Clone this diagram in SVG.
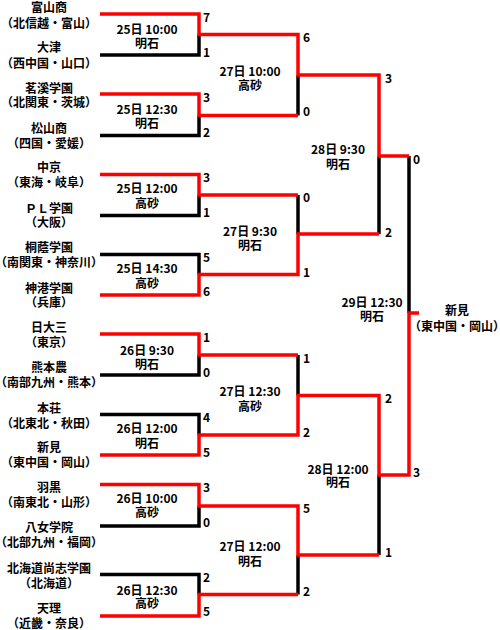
<svg xmlns="http://www.w3.org/2000/svg" width="500" height="630" viewBox="0 0 500 630">
<style>
text{font-family:"Noto Sans CJK JP","Noto Sans CJK SC",sans-serif;font-size:12px;font-weight:bold;fill:#000}
.t{text-anchor:middle}
.s{text-anchor:start}
.w{fill:none;stroke:#ff0000;stroke-width:3.5;stroke-linejoin:miter;stroke-linecap:butt}
.l{fill:none;stroke:#000;stroke-width:3.5;stroke-linejoin:miter;stroke-linecap:butt}
</style>
<rect width="500" height="630" fill="#fff"/>
<g id="connectors">
<path class="l" d="M100,55H199V34.5"/>
<path class="l" d="M100,135.5H199V115.5"/>
<path class="l" d="M298,115.5V75"/>
<path class="l" d="M100,215.5H199V195"/>
<path class="l" d="M100,254.5H199V274.5"/>
<path class="l" d="M298,195V234"/>
<path class="l" d="M379,234V156"/>
<path class="l" d="M409,156V313"/>
<path class="l" d="M100,375H199V355"/>
<path class="l" d="M100,414.5H199V435"/>
<path class="l" d="M298,355V395.5"/>
<path class="l" d="M100,526H199V506"/>
<path class="l" d="M100,574.5H199V594.5"/>
<path class="l" d="M298,594.5V555"/>
<path class="l" d="M379,555V475"/>
<path class="w" d="M100,14H199V34.5H298V75H379V156H409"/>
<path class="w" d="M100,94H199V115.5H298"/>
<path class="w" d="M100,174.5H199V195H298"/>
<path class="w" d="M100,295H199V274.5H298V234H379"/>
<path class="w" d="M100,334H199V355H298"/>
<path class="w" d="M100,455H199V435H298V395.5H379V475H409V313H419"/>
<path class="w" d="M100,484.5H199V506H298V555H379"/>
<path class="w" d="M100,616H199V594.5H298"/>
</g>
<g id="team1"><text class="t" x="49" y="11.5">富山商</text><text class="t" x="49" y="27.5">（北信越・富山）</text></g>
<g id="team2"><text class="t" x="49" y="52.2">大津</text><text class="t" x="49" y="67.5">（西中国・山口）</text></g>
<g id="team3"><text class="t" x="49" y="92.5">茗溪学園</text><text class="t" x="49" y="106.5">（北関東・茨城）</text></g>
<g id="team4"><text class="t" x="49" y="132.5">松山商</text><text class="t" x="49" y="147.5">（四国・愛媛）</text></g>
<g id="team5"><text class="t" x="49" y="171.5">中京</text><text class="t" x="49" y="186.5">（東海・岐阜）</text></g>
<g id="team6"><text class="t" x="49" y="212.5">ＰＬ学園</text><text class="t" x="49" y="226.5">（大阪）</text></g>
<g id="team7"><text class="t" x="49" y="251.5">桐蔭学園</text><text class="t" x="49" y="266.5">（南関東・神奈川）</text></g>
<g id="team8"><text class="t" x="49" y="292.5">神港学園</text><text class="t" x="49" y="306.5">（兵庫）</text></g>
<g id="team9"><text class="t" x="49" y="331.5">日大三</text><text class="t" x="49" y="346.5">（東京）</text></g>
<g id="team10"><text class="t" x="49" y="371.5">熊本農</text><text class="t" x="49" y="386.5">（南部九州・熊本）</text></g>
<g id="team11"><text class="t" x="49" y="412.5">本荘</text><text class="t" x="49" y="427.5">（北東北・秋田）</text></g>
<g id="team12"><text class="t" x="49" y="451.5">新見</text><text class="t" x="49" y="466.5">（東中国・岡山）</text></g>
<g id="team13"><text class="t" x="49" y="491.5">羽黒</text><text class="t" x="49" y="506.5">（南東北・山形）</text></g>
<g id="team14"><text class="t" x="49" y="531.5">八女学院</text><text class="t" x="49" y="546.5">（北部九州・福岡）</text></g>
<g id="team15"><text class="t" x="49" y="572.5">北海道尚志学園</text><text class="t" x="49" y="587.5">（北海道）</text></g>
<g id="team16"><text class="t" x="49" y="612.5">天理</text><text class="t" x="49" y="627.5">（近畿・奈良）</text></g>
<g id="m1"><text class="t" x="147" y="33.5">25日 10:00</text><text class="t" x="147" y="47.5">明石</text><text class="s" x="203" y="22.4">7</text><text class="s" x="203" y="57.4">1</text></g>
<g id="m2"><text class="t" x="147" y="113.5">25日 12:30</text><text class="t" x="147" y="127.5">明石</text><text class="s" x="203" y="102.4">3</text><text class="s" x="203" y="137.4">2</text></g>
<g id="m3"><text class="t" x="147" y="192.5">25日 12:00</text><text class="t" x="147" y="207.5">高砂</text><text class="s" x="203" y="182.4">3</text><text class="s" x="203" y="217.4">1</text></g>
<g id="m4"><text class="t" x="147" y="272.5">25日 14:30</text><text class="t" x="147" y="287.5">高砂</text><text class="s" x="203" y="262.4">5</text><text class="s" x="203" y="296.4">6</text></g>
<g id="m5"><text class="t" x="147" y="354.5">26日 9:30</text><text class="t" x="147" y="368.5">明石</text><text class="s" x="203" y="342.4">1</text><text class="s" x="203" y="377">0</text></g>
<g id="m6"><text class="t" x="147" y="432.5">26日 12:00</text><text class="t" x="147" y="447.5">明石</text><text class="s" x="203" y="422.4">4</text><text class="s" x="203" y="457.4">5</text></g>
<g id="m7"><text class="t" x="147" y="502.5">26日 10:00</text><text class="t" x="147" y="516.5">高砂</text><text class="s" x="203" y="492.4">3</text><text class="s" x="203" y="527.4">0</text></g>
<g id="m8"><text class="t" x="147" y="594.5">26日 12:30</text><text class="t" x="147" y="607.5">高砂</text><text class="s" x="203" y="582.4">2</text><text class="s" x="203" y="616.4">5</text></g>
<g id="qf1"><text class="t" x="250" y="75.5">27日 10:00</text><text class="t" x="250" y="89.5">高砂</text><text class="s" x="303" y="42.4">6</text><text class="s" x="303" y="116.4">0</text></g>
<g id="qf2"><text class="t" x="250" y="236">27日 9:30</text><text class="t" x="250" y="249.5">明石</text><text class="s" x="303" y="202.4">0</text><text class="s" x="303" y="277.4">1</text></g>
<g id="qf3"><text class="t" x="250" y="396">27日 12:30</text><text class="t" x="250" y="411">高砂</text><text class="s" x="303" y="363.4">1</text><text class="s" x="303" y="437.4">2</text></g>
<g id="qf4"><text class="t" x="250" y="551">27日 12:00</text><text class="t" x="250" y="566">明石</text><text class="s" x="303" y="513.4">5</text><text class="s" x="303" y="596.4">2</text></g>
<g id="sf1"><text class="t" x="338" y="153.5">28日 9:30</text><text class="t" x="338" y="168.5">明石</text><text class="s" x="385" y="83.4">3</text><text class="s" x="385" y="237">2</text></g>
<g id="sf2"><text class="t" x="338" y="473.5">28日 12:00</text><text class="t" x="338" y="487">明石</text><text class="s" x="385" y="403.4">2</text><text class="s" x="385" y="557.4">1</text></g>
<g id="final"><text class="t" x="372" y="307">29日 12:30</text><text class="t" x="372" y="321">明石</text><text class="s" x="413" y="164.4">0</text><text class="s" x="413" y="477">3</text></g>
<g id="champion"><text class="t" x="457" y="314.5">新見</text><text class="t" x="457" y="330.5">（東中国・岡山）</text></g>
</svg>
